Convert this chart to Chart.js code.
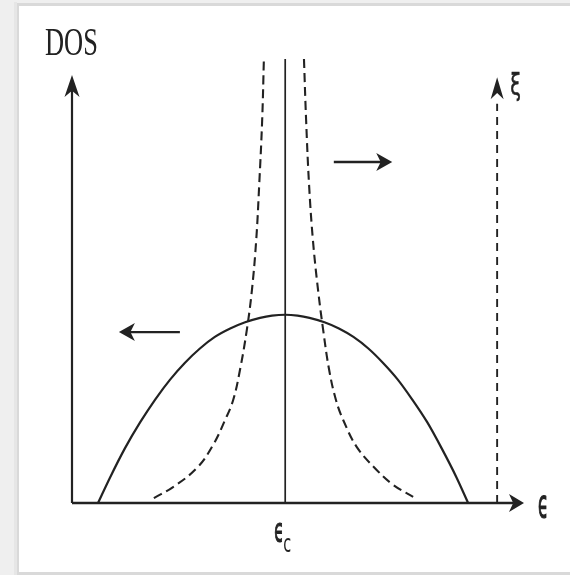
<!DOCTYPE html>
<html>
<head>
<meta charset="utf-8">
<style>
  html, body { margin: 0; padding: 0; background: #efefef; }
  #wrap { width: 570px; height: 575px; }
</style>
<script src="https://cdn.jsdelivr.net/npm/chart.js@4.4.1/dist/chart.umd.min.js"></script>
</head>
<body>
<div id="wrap"><canvas id="dos" width="570" height="575"></canvas></div>
<script>
// Density of states around the mobility edge (solid) and the
// localization length on either side of it (dashed), in arbitrary units.
const dosEnergy = [0.61, 0.89, 1.24, 1.60, 1.95, 2.30, 2.65, 3.00, 3.35, 3.71, 4.06, 4.41, 4.69,
                   5.00, 5.29, 5.57, 5.92, 6.26, 6.60, 6.95, 7.29, 7.64, 7.98, 8.33, 8.67, 9.02, 9.29];
const dosValue  = [0.00, 0.57, 1.23, 1.82, 2.33, 2.78, 3.16, 3.48, 3.74, 3.93, 4.07, 4.17, 4.22,
                   4.24, 4.22, 4.17, 4.07, 3.93, 3.74, 3.48, 3.16, 2.78, 2.33, 1.82, 1.23, 0.57, 0.00];

const xiLeftEnergy  = [1.92, 2.37, 2.93, 3.31, 3.59, 3.78, 3.94, 4.10, 4.22, 4.32, 4.39, 4.46, 4.50];
const xiLeftValue   = [0.11, 0.36, 0.79, 1.31, 1.87, 2.32, 3.00, 3.90, 4.80, 5.92, 7.16, 8.63, 10.0];
const xiRightEnergy = [5.44, 5.49, 5.56, 5.65, 5.77, 5.89, 6.03, 6.19, 6.36, 6.68, 7.15, 7.53, 8.00];
const xiRightValue  = [10.0, 8.63, 7.16, 5.92, 4.80, 3.90, 3.00, 2.32, 1.87, 1.26, 0.74, 0.41, 0.14];

// Mobility edge and the extent of the axes
const criticalEnergy = 5.0;
const axisEnd = [10.6, 9.64];          // [energy axis tip, DOS axis tip]
const xiAxis = [9.97, 9.59];           // [energy of the xi axis, its tip]
const centerLineTop = 10.0;

// Arrows showing the shift of the edge: [from energy, to energy, level]
const shiftArrows = [
  [2.53, 1.10, 3.85],
  [6.14, 7.51, 7.68]
];

const axisLabels = ['DOS', '\u03F5', '\u03BE'];
const edgeLabel = ['\u03F5', 'c'];

const ink = '#222222';
const pts = (xs, ys) => xs.map((x, i) => ({ x: x, y: ys[i] }));

function head(ctx, x, y, angle, len, half) {
  ctx.save();
  ctx.translate(x, y);
  ctx.rotate(angle);
  ctx.beginPath();
  ctx.moveTo(0, 0);
  ctx.lineTo(-len, -half);
  ctx.lineTo(-len * 0.72, 0);
  ctx.lineTo(-len, half);
  ctx.closePath();
  ctx.fill();
  ctx.restore();
}

function stretchedText(ctx, txt, x, y, font, sx, sy, weight) {
  ctx.save();
  ctx.translate(x, y);
  ctx.scale(sx, sy);
  ctx.font = font;
  ctx.fillText(txt, 0, 0);
  if (weight) {
    ctx.lineWidth = weight;
    ctx.strokeStyle = ctx.fillStyle;
    ctx.strokeText(txt, 0, 0);
  }
  ctx.restore();
}

const decor = {
  id: 'decor',
  beforeDraw(chart) {
    const ctx = chart.ctx;
    ctx.save();
    ctx.fillStyle = '#efefef';
    ctx.fillRect(0, 0, chart.width, chart.height);
    // soft edge of the white sheet
    ctx.fillStyle = '#d9d9d9';
    ctx.fillRect(16, 3, chart.width - 16, chart.height - 2);
    ctx.fillStyle = '#e6e6e6';
    ctx.fillRect(14, 2, 3, chart.height - 2);
    ctx.fillStyle = '#ffffff';
    ctx.fillRect(19, 6, chart.width - 19, 566);
    ctx.restore();
  },
  afterDatasetsDraw(chart) {
    const ctx = chart.ctx;
    const xs = chart.scales.x, ys = chart.scales.y;
    ctx.save();
    ctx.fillStyle = ink;
    // axis heads
    head(ctx, xs.getPixelForValue(0), ys.getPixelForValue(axisEnd[1]), -Math.PI / 2, 22, 7.5);
    head(ctx, xs.getPixelForValue(axisEnd[0]), ys.getPixelForValue(0), 0, 15, 9);
    head(ctx, xs.getPixelForValue(xiAxis[0]), ys.getPixelForValue(xiAxis[1]), -Math.PI / 2, 22, 6.5);
    // shift arrows
    shiftArrows.forEach(a => {
      const dir = a[1] > a[0] ? 0 : Math.PI;
      head(ctx, xs.getPixelForValue(a[1]), ys.getPixelForValue(a[2]), dir, 16, 9);
    });
    ctx.restore();
  },
  afterDraw(chart) {
    const ctx = chart.ctx;
    const xs = chart.scales.x, ys = chart.scales.y;
    const ox = xs.getPixelForValue(0), oy = ys.getPixelForValue(0);
    ctx.save();
    ctx.fillStyle = '#222';
    ctx.textBaseline = 'alphabetic';
    ctx.textAlign = 'left';
    // DOS title above the vertical axis
    stretchedText(ctx, axisLabels[0], ox - 27, 55, '40px "Liberation Serif"', 0.66, 1);
    // energy symbol at the end of the horizontal axis
    const ex = xs.getPixelForValue(axisEnd[0]);
    stretchedText(ctx, axisLabels[1], ex + 14, oy + 14, '21px "DejaVu Sans"', 0.8, 1.75, 0.7);
    // xi symbol next to its axis tip
    const xx = xs.getPixelForValue(xiAxis[0]);
    stretchedText(ctx, axisLabels[2], xx + 13, ys.getPixelForValue(xiAxis[1]) + 18, '24px "DejaVu Sans"', 0.8, 1.25, 0.5);
    // critical energy under the centre line
    const cx = xs.getPixelForValue(criticalEnergy);
    stretchedText(ctx, edgeLabel[0], cx - 11, oy + 39, '19px "DejaVu Sans"', 0.82, 1.75, 0.7);
    stretchedText(ctx, edgeLabel[1], cx - 2, oy + 49, '16px "DejaVu Sans"', 0.9, 1.6);
    ctx.restore();
  }
};

const solid = (data, w) => ({
  data: data, showLine: true, borderColor: ink, borderWidth: w,
  pointRadius: 0, tension: 0, clip: false, fill: false
});
const curve = (data, w, dash) => Object.assign(solid(data, w), {
  tension: 0.4, borderDash: dash || []
});

new Chart(document.getElementById('dos'), {
  type: 'scatter',
  data: {
    datasets: [
      // axes
      solid([{ x: 0, y: 0 }, { x: axisEnd[0] - 0.25, y: 0 }], 2.6),
      solid([{ x: 0, y: 0 }, { x: 0, y: axisEnd[1] - 0.35 }], 2.2),
      // density of states
      Object.assign(curve(pts(dosEnergy, dosValue), 2.2), { cubicInterpolationMode: 'monotone' }),
      // mobility edge
      solid([{ x: criticalEnergy, y: 0 }, { x: criticalEnergy, y: centerLineTop }], 1.7),
      // localization length on both sides
      curve(pts(xiLeftEnergy, xiLeftValue), 2.1, [9, 5]),
      curve(pts(xiRightEnergy, xiRightValue), 2.1, [9, 5]),
      // xi axis
      Object.assign(solid([{ x: xiAxis[0], y: 0 }, { x: xiAxis[0], y: xiAxis[1] - 0.6 }], 1.9), { borderDash: [8, 6] }),
      // shift arrows
      ...shiftArrows.map(a => solid([{ x: a[0], y: a[2] }, { x: a[1] + (a[1] > a[0] ? -0.2 : 0.2), y: a[2] }], 2.3))
    ]
  },
  options: {
    responsive: false,
    devicePixelRatio: 1,
    animation: false,
    layout: { padding: { left: 72, right: 46, top: 59, bottom: 72 } },
    plugins: { legend: { display: false }, tooltip: { enabled: false } },
    scales: {
      x: { type: 'linear', min: 0, max: 10.6, display: false },
      y: { type: 'linear', min: 0, max: 10, display: false }
    }
  },
  plugins: [decor]
});
</script>
</body>
</html>
